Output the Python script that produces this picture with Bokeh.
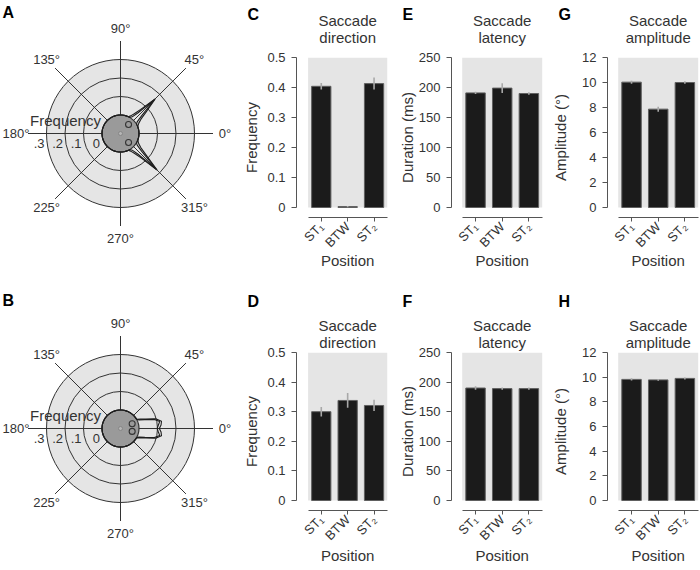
import math
import numpy as np
from bokeh.plotting import figure
from bokeh.layouts import row, column
from bokeh.models import Range1d, FixedTicker, Label, ColumnDataSource
from bokeh.core.properties import value
from bokeh.embed import file_html
from bokeh.resources import INLINE

FONT = "Liberation Sans"
TXT = "#333333"
AX = "#555555"

# ---------------- data ----------------
positions = ["ST\u2081", "BTW", "ST\u2082"]
pos_x = [0, 1, 2]
xlabel = "Position"

title_dir = ["Saccade", "direction"]
title_lat = ["Saccade", "latency"]
title_amp = ["Saccade", "amplitude"]

# C / D : saccade direction frequency
dirC_vals = [0.404, 0.003, 0.413]
dirC_err = [0.011, 0.002, 0.020]
dirD_vals = [0.300, 0.338, 0.321]
dirD_err = [0.016, 0.025, 0.019]
# E / F : saccade latency (ms)
latE_vals = [191, 199, 190]
latE_err = [2, 8, 2]
latF_vals = [190, 189, 189]
latF_err = [3, 2, 2]
# G / H : saccade amplitude (deg)
ampG_vals = [10.03, 7.87, 10.0]
ampG_err = [0.12, 0.2, 0.1]
ampH_vals = [9.82, 9.78, 9.9]
ampH_err = [0.1, 0.08, 0.08]

freq_ticks = [0, 0.1, 0.2, 0.3, 0.4, 0.5]
freq_tick_labels = ["0", "0.1", "0.2", "0.3", "0.4", "0.5"]
dur_ticks = [0, 50, 100, 150, 200, 250]
dur_tick_labels = ["0", "50", "100", "150", "200", "250"]
amp_ticks = [0, 2, 4, 6, 8, 10, 12]
amp_tick_labels = ["0", "2", "4", "6", "8", "10", "12"]

# polar plots: direction histogram in 5-degree bins (0..355)
polar_bin_angles = list(range(0, 360, 5))
freqA_1 = [0, 0, 0, 0, 0, 0.005, 0.015, 0.035, 0.08, 0.165, 0.07, 0.03,
           0.01, 0, 0, 0, 0, 0, 0, 0, 0, 0, 0, 0,
           0, 0, 0, 0, 0, 0, 0, 0, 0, 0, 0, 0,
           0, 0, 0, 0, 0, 0, 0, 0, 0, 0, 0, 0,
           0, 0, 0, 0, 0, 0, 0, 0, 0, 0, 0, 0,
           0.01, 0.03, 0.07, 0.18, 0.08, 0.035, 0.015, 0.005, 0, 0, 0, 0]
freqA_2 = [0, 0, 0, 0, 0, 0, 0, 0.01, 0.05, 0.16, 0.045, 0.01,
           0, 0, 0, 0, 0, 0, 0, 0, 0, 0, 0, 0,
           0, 0, 0, 0, 0, 0, 0, 0, 0, 0, 0, 0,
           0, 0, 0, 0, 0, 0, 0, 0, 0, 0, 0, 0,
           0, 0, 0, 0, 0, 0, 0, 0, 0, 0, 0, 0,
           0, 0.01, 0.045, 0.175, 0.05, 0.01, 0, 0, 0, 0, 0, 0]
freqB_1 = [0.11, 0.12, 0.125, 0.1, 0.05, 0.02, 0, 0, 0, 0, 0, 0,
           0, 0, 0, 0, 0, 0, 0, 0, 0, 0, 0, 0,
           0, 0, 0, 0, 0, 0, 0, 0, 0, 0, 0, 0,
           0, 0, 0, 0, 0, 0, 0, 0, 0, 0, 0, 0,
           0, 0, 0, 0, 0, 0, 0, 0, 0, 0, 0, 0,
           0, 0, 0, 0, 0, 0, 0, 0.02, 0.05, 0.1, 0.125, 0.12]
freqB_2 = [0.098, 0.105, 0.115, 0.09, 0.04, 0.01, 0, 0, 0, 0, 0, 0,
           0, 0, 0, 0, 0, 0, 0, 0, 0, 0, 0, 0,
           0, 0, 0, 0, 0, 0, 0, 0, 0, 0, 0, 0,
           0, 0, 0, 0, 0, 0, 0, 0, 0, 0, 0, 0,
           0, 0, 0, 0, 0, 0, 0, 0, 0, 0, 0, 0,
           0, 0, 0, 0, 0, 0, 0, 0.01, 0.04, 0.09, 0.115, 0.105]
# mean direction markers (angle in degrees, length)
meanA_dir = [48, 312]
meanA_len = [0.065, 0.065]
meanB_dir = [22, 346]
meanB_len = [0.068, 0.065]

ring_freqs = [0, 0.1, 0.2, 0.3]
ring_labels = ["0", ".1", ".2", ".3"]
spoke_angles = [0, 45, 90, 135, 180, 225, 270, 315]
spoke_labels = ["0°", "45°", "90°", "135°", "180°", "225°", "270°", "315°"]

# ---------------- geometry / style ----------------
S = 185.0       # px per frequency unit in the polar plots
R0 = 0.1        # radius of the inner disk (frequency 0)
SPOKE_R = 0.5
LABEL_R = 0.565
PX_PER_CAT = 26.67


def polar_panel(h, cy, letter, letter_dy, f1, f2, mdir, mlen):
    w, cx = 240, 120
    p = figure(width=w, height=h,
               x_range=Range1d(-cx / S, (w - cx) / S),
               y_range=Range1d(-(h - cy) / S, cy / S),
               output_backend="svg", toolbar_location=None, min_border=0,
               x_axis_location=None, y_axis_location=None,
               outline_line_color=None)
    p.frame_align = False
    p.grid.visible = False
    rr = [R0 + f for f in ring_freqs]
    p.circle(x=[0], y=[0], radius=[rr[-1]], fill_color="#e5e5e5",
             line_color="#333333", line_width=1)
    p.circle(x=[0, 0], y=[0, 0], radius=rr[1:3], fill_color=None,
             line_color="#333333", line_width=1)
    th = np.radians(spoke_angles)
    p.segment(x0=0, y0=0, x1=SPOKE_R * np.cos(th), y1=SPOKE_R * np.sin(th),
              line_color="#333333", line_width=1)
    p.circle(x=[0], y=[0], radius=[R0], fill_color="#9a9a9a",
             line_color="#333333", line_width=1.2)
    a = np.radians(polar_bin_angles + [polar_bin_angles[0]])
    for f in (f1, f2):
        r = R0 + np.array(list(f) + [f[0]])
        p.line(r * np.cos(a), r * np.sin(a), line_color="#1e1e1e", line_width=1.1)
    ma = np.radians(mdir)
    ml = np.array(mlen)
    p.scatter(ml * np.cos(ma), ml * np.sin(ma), size=6, marker="circle",
              fill_color="#9a9a9a", line_color="#333333", line_width=1.1)
    p.scatter([0], [0], size=4, marker="circle", fill_color="#b5b5b5",
              line_color="#808080", line_width=0.8)
    p.text(x=LABEL_R * np.cos(th), y=LABEL_R * np.sin(th), text=spoke_labels,
           text_align="center", text_baseline="middle", text_font=value(FONT),
           text_font_size="13px", text_color=TXT)
    p.text(x=[-(R0 + f) - 2 / S for f in ring_freqs], y=[-10 / S] * len(ring_freqs),
           text=ring_labels, text_align="right", text_baseline="middle",
           text_font=value(FONT), text_font_size="13px", text_color=TXT)
    p.text(x=[-55 / S], y=[13 / S], text=["Frequency"], text_align="center",
           text_baseline="middle", text_font=value(FONT), text_font_size="15px",
           text_color=TXT)
    p.add_layout(Label(x=-cx / S, y=cy / S, x_offset=2, y_offset=letter_dy,
                       text=letter, text_font=FONT, text_font_style="bold",
                       text_font_size="16px", text_baseline="top",
                       text_color="black"))
    return p


TOP = dict(height=285, border_top=57, frame_h=160, zero_px=150, t_dy=(37, 20.3),
           letter_dy=52, pos_dy=-43)
BOT = dict(height=283, border_top=67, frame_h=158, zero_px=148, t_dy=(27, 10.5),
           letter_dy=60, pos_dy=-45)


def bar_panel(width, border_left, gap, g, vals, errs, ymax, yticks, ylabels,
              ylabel, lab_standoff, letter, title):
    frame_w = width - border_left
    xs = -0.5 - gap / PX_PER_CAT
    xe = xs + frame_w / PX_PER_CAT
    ys = -ymax * (g["frame_h"] - g["zero_px"]) / g["zero_px"]
    h = g["height"]
    p = figure(width=width, height=h, x_range=Range1d(xs, xe),
               y_range=Range1d(ys, ymax), output_backend="svg",
               toolbar_location=None, min_border_left=border_left,
               min_border_right=0, min_border_top=g["border_top"],
               min_border_bottom=h - g["border_top"] - g["frame_h"],
               outline_line_color=None)
    p.frame_align = False
    p.grid.visible = False
    p.quad(left=[-0.5], right=[2.5], bottom=[0], top=[ymax],
           fill_color="#e5e5e5", line_color=None)
    src = ColumnDataSource(dict(
        x=pos_x, top=vals,
        lo=[v - e for v, e in zip(vals, errs)],
        hi=[v + e for v, e in zip(vals, errs)]))
    p.vbar(x="x", top="top", bottom=0, width=0.73, source=src,
           fill_color="#1b1b1b", line_color="#606060", line_width=1)
    p.segment(x0="x", y0="lo", x1="x", y1="hi", source=src,
              line_color="#a8a8a8", line_width=1.6)

    for ax in p.axis:
        ax.axis_line_color = AX
        ax.major_tick_line_color = AX
        ax.minor_tick_line_color = None
        ax.major_tick_in = 0
        ax.major_label_text_font = FONT
        ax.major_label_text_font_size = "13px"
        ax.major_label_text_color = TXT
        ax.axis_label_text_font = FONT
        ax.axis_label_text_font_size = "15px"
        ax.axis_label_text_font_style = "normal"
        ax.axis_label_text_color = TXT

    xa = p.xaxis[0]
    xa.ticker = FixedTicker(ticks=pos_x)
    xa.major_label_overrides = {k: v for k, v in zip(pos_x, positions)}
    xa.bounds = (-0.5, 2.5)
    xa.major_label_orientation = math.pi / 4
    xa.major_tick_out = 4
    xa.major_label_standoff = 3

    ya = p.yaxis[0]
    ya.ticker = FixedTicker(ticks=yticks)
    ya.major_label_overrides = {k: v for k, v in zip(yticks, ylabels)}
    ya.bounds = (0, ymax)
    ya.major_tick_out = 5
    ya.major_label_standoff = 6
    ya.axis_label = ylabel
    ya.axis_label_standoff = lab_standoff

    for txt, dy in zip(title, g["t_dy"]):
        p.add_layout(Label(x=1, y=ymax, y_offset=dy, text=txt, text_align="center",
                           text_baseline="middle", text_font=FONT,
                           text_font_size="15px", text_color=TXT), "above")
    p.add_layout(Label(x=xs, y=ymax, x_offset=-49, y_offset=g["letter_dy"],
                       text=letter, text_font=FONT, text_font_style="bold",
                       text_font_size="16px", text_baseline="top",
                       text_color="black"), "above")
    p.add_layout(Label(x=1, y=ys, y_offset=g["pos_dy"], text=xlabel,
                       text_align="center", text_baseline="middle",
                       text_font=FONT, text_font_size="15px", text_color=TXT), "below")
    return p


pA = polar_panel(TOP["height"], 133, "A", -3, freqA_1, freqA_2, meanA_dir, meanA_len)
pB = polar_panel(BOT["height"], 143, "B", -6, freqB_1, freqB_2, meanB_dir, meanB_len)

pC = bar_panel(150, 55, 11.7, TOP, dirC_vals, dirC_err, 0.5, freq_ticks,
               freq_tick_labels, "Frequency", 4, "C", title_dir)
pD = bar_panel(150, 55, 11.7, BOT, dirD_vals, dirD_err, 0.5, freq_ticks,
               freq_tick_labels, "Frequency", 4, "D", title_dir)
pE = bar_panel(155, 61, 10.7, TOP, latE_vals, latE_err, 250, dur_ticks,
               dur_tick_labels, "Duration (ms)", 0, "E", title_lat)
pF = bar_panel(155, 61, 10.7, BOT, latF_vals, latF_err, 250, dur_ticks,
               dur_tick_labels, "Duration (ms)", 0, "F", title_lat)
pG = bar_panel(155, 62, 10.7, TOP, ampG_vals, ampG_err, 12, amp_ticks,
               amp_tick_labels, "Amplitude (°)", 10, "G", title_amp)
pH = bar_panel(155, 62, 10.7, BOT, ampH_vals, ampH_err, 12, amp_ticks,
               amp_tick_labels, "Amplitude (°)", 10, "H", title_amp)

layout = column(row(pA, pC, pE, pG), row(pB, pD, pF, pH))

with open("out.html", "w", encoding="utf-8") as fh:
    fh.write(file_html(layout, INLINE, title="Saccade measures"))
